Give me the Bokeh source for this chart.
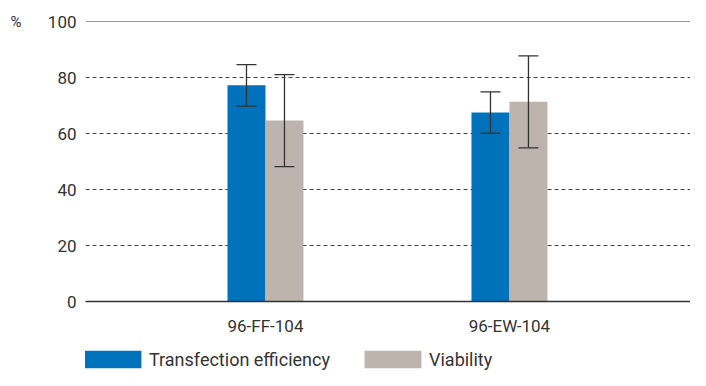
from bokeh.plotting import figure
from bokeh.layouts import column
from bokeh.models import (ColumnDataSource, Whisker, TeeHead, FixedTicker, LinearAxis,
                          Span, Legend, LegendItem, Range1d)
from bokeh.embed import file_html
from bokeh.resources import INLINE

categories = ["96-FF-104", "96-EW-104"]
series_names = ["Transfection efficiency", "Viability"]
transfection = [77.2, 67.5]
transfection_err = [7.4, 7.4]
viability = [64.6, 71.3]
viability_err = [16.4, 16.4]
y_ticks = [0, 20, 40, 60, 80, 100]

BLUE = "#0072BC"
GREY = "#BDB5AD"
TXT = "#333333"
FONT = "Roboto"

idx = list(range(len(categories)))
bw = 0.1557
off = bw / 2

src_t = ColumnDataSource(dict(
    x=[i - off for i in idx], top=transfection,
    upper=[v + e for v, e in zip(transfection, transfection_err)],
    lower=[v - e for v, e in zip(transfection, transfection_err)]))
src_v = ColumnDataSource(dict(
    x=[i + off for i in idx], top=viability,
    upper=[v + e for v, e in zip(viability, viability_err)],
    lower=[v - e for v, e in zip(viability, viability_err)]))

p = figure(width=690, height=338, output_backend="svg", toolbar_location=None,
           x_range=Range1d(-0.7377, 1.742), y_range=Range1d(0, 100),
           min_border_left=85, min_border_right=0, min_border_top=21, min_border_bottom=36)
p.outline_line_color = None
p.background_fill_color = "white"
p.border_fill_color = "white"

# grid
p.xgrid.visible = False
p.ygrid.ticker = FixedTicker(ticks=y_ticks)
p.ygrid.grid_line_color = "#444444"
p.ygrid.grid_line_dash = "4 3"
p.ygrid.grid_line_width = 1

top_line = Span(location=100, dimension="width", line_color=TXT, line_width=1.2)
p.add_layout(top_line)

r1 = p.vbar(x="x", top="top", width=bw, bottom=0, source=src_t, color=BLUE, line_color=None)
r2 = p.vbar(x="x", top="top", width=bw, bottom=0, source=src_v, color=GREY, line_color=None)

for s in (src_t, src_v):
    w = Whisker(base="x", upper="upper", lower="lower", source=s, dimension="height",
                line_color=TXT, line_width=1.3, level="overlay",
                upper_head=TeeHead(size=20, line_color=TXT, line_width=1.3),
                lower_head=TeeHead(size=20, line_color=TXT, line_width=1.3))
    p.add_layout(w)

# x axis
p.xaxis.ticker = FixedTicker(ticks=idx)
p.xaxis.major_label_overrides = {i: c for i, c in zip(idx, categories)}
p.xaxis.axis_line_color = TXT
p.xaxis.axis_line_width = 1.5
p.xaxis.major_tick_line_color = None
p.xaxis.major_tick_out = 0
p.xaxis.minor_tick_line_color = None
p.xaxis.major_label_standoff = 14
p.xaxis.major_label_text_font = FONT
p.xaxis.major_label_text_font_size = "17px"
p.xaxis.major_label_text_color = TXT

# y axis
p.yaxis.ticker = FixedTicker(ticks=y_ticks)
p.yaxis.axis_line_color = None
p.yaxis.major_tick_line_color = None
p.yaxis.major_tick_out = 0
p.yaxis.minor_tick_line_color = None
p.yaxis.major_label_standoff = 9
p.yaxis.major_label_text_font = FONT
p.yaxis.major_label_text_font_size = "17px"
p.yaxis.major_label_text_color = TXT

unit_axis = LinearAxis(ticker=FixedTicker(ticks=[100]), major_label_overrides={100: "%"},
                       axis_line_color=None, major_tick_line_color=None, major_tick_out=0,
                       minor_tick_line_color=None, major_label_standoff=23,
                       major_label_text_font=FONT, major_label_text_font_size="15px",
                       major_label_text_color=TXT)
p.add_layout(unit_axis, "left")

# legend strip (separate figure so the legend sits below the axis labels);
# its proxy bars use the same data but lie outside the strip's visible range
lg = figure(width=690, height=32, output_backend="svg", toolbar_location=None,
            x_range=Range1d(0, 1), y_range=Range1d(1000, 1001),
            x_axis_location=None, y_axis_location=None,
            min_border_left=0, min_border_right=0, min_border_top=0, min_border_bottom=0)
lg.outline_line_color = None
lg.xgrid.visible = False
lg.ygrid.visible = False
lg1 = lg.vbar(x=idx, top=transfection, width=bw, color=BLUE, line_color=None)
lg2 = lg.vbar(x=idx, top=viability, width=bw, color=GREY, line_color=None)

legend = Legend(items=[LegendItem(label=series_names[0], renderers=[lg1]),
                       LegendItem(label=series_names[1], renderers=[lg2])],
                location=(-8, 0), orientation="horizontal",
                glyph_width=71, glyph_height=22, label_standoff=1, label_width=208,
                label_height=18, spacing=0, padding=0, margin=0,
                label_text_font=FONT, label_text_font_size="18px", label_text_color=TXT,
                border_line_color=None, background_fill_alpha=0)
lg.add_layout(legend)

layout = column(p, lg, spacing=0)
open("out.html", "w").write(file_html(layout, INLINE))
